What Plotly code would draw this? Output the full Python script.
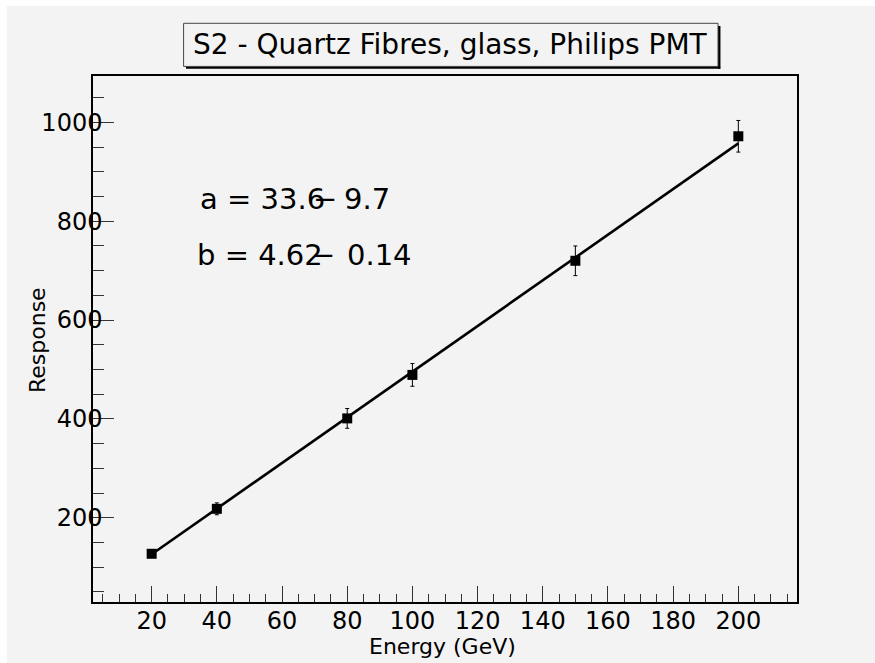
import plotly.graph_objects as go

# Beam energies and measured detector response with uncertainties
energy = [20, 40, 80, 100, 150, 200]
response = [127, 218, 401, 489, 720, 972]
response_err = [7, 12, 20, 23, 30, 32]

# Linear fit parameters: response = a + b * energy
fit_a, fit_a_err = 33.6, 9.7
fit_b, fit_b_err = 4.62, 0.14

x_ticks = [20, 40, 60, 80, 100, 120, 140, 160, 180, 200]
y_ticks = [200, 400, 600, 800, 1000]

title_text = "S2 - Quartz Fibres, glass, Philips PMT"
x_title = "Energy (GeV)"
y_title = "Response"

W, H = 875, 663
L, R, T, B = 93, 797, 76, 602
PW, PH = R - L, B - T
BG = "#f3f3f3"
FONT = "DejaVu Sans"


def xp(px):
    return (px - L) / PW


def yp(py):
    return (B - py) / PH


fit_x = [energy[0], energy[-1]]
fit_y = [fit_a + fit_b * e for e in fit_x]

fig = go.Figure()

fig.add_trace(go.Scatter(
    x=fit_x, y=fit_y, mode="lines",
    line=dict(color="black", width=2.6),
    hoverinfo="skip", showlegend=False,
))

fig.add_trace(go.Scatter(
    x=energy, y=response, mode="markers",
    marker=dict(symbol="square", size=10, color="black"),
    error_y=dict(type="data", array=response_err, visible=True,
                 color="black", thickness=1, width=2),
    showlegend=False,
))

axis_common = dict(
    showgrid=False, zeroline=False,
    showline=True, linecolor="black", linewidth=1.5, mirror=True,
    ticks="inside", tickcolor="#333", tickwidth=1,
    tickfont=dict(family=FONT, size=24, color="black"),
)

fig.update_xaxes(
    range=[2, 218], tickvals=x_ticks, ticklen=16,
    ticklabelstandoff=-4,
    minor=dict(dtick=5, tick0=0, ticks="inside", ticklen=8,
               tickcolor="#333", tickwidth=1, showgrid=False),
    **axis_common,
)
fig.update_yaxes(
    range=[29.4, 1094], tickvals=y_ticks, ticklen=21,
    ticklabelstandoff=-16,
    minor=dict(dtick=50, tick0=0, ticks="inside", ticklen=11,
               tickcolor="#333", tickwidth=1, showgrid=False),
    **axis_common,
)

shapes = [
    # thin white edge along the top and left of the canvas
    dict(type="rect", xref="paper", yref="paper", layer="above",
         x0=xp(-2), x1=xp(6.7), y0=yp(H + 2), y1=yp(-2),
         fillcolor="white", line=dict(width=0)),
    dict(type="rect", xref="paper", yref="paper", layer="above",
         x0=xp(-2), x1=xp(W + 2), y0=yp(6), y1=yp(-2),
         fillcolor="white", line=dict(width=0)),
    # title box with drop shadow
    dict(type="line", xref="paper", yref="paper", layer="above",
         x0=xp(186), x1=xp(720.2), y0=yp(67.6), y1=yp(67.6),
         line=dict(color="black", width=2.5)),
    dict(type="line", xref="paper", yref="paper", layer="above",
         x0=xp(719.2), x1=xp(719.2), y0=yp(26), y1=yp(68.8),
         line=dict(color="black", width=2.5)),
    dict(type="rect", xref="paper", yref="paper", layer="above",
         x0=xp(183.6), x1=xp(718), y0=yp(66.4), y1=yp(23.3),
         fillcolor=BG, line=dict(color="#444", width=1)),
]

annotations = [
    dict(text=title_text, x=xp(450.8), y=yp(44.9), xanchor="center",
         yanchor="middle", font=dict(family=FONT, size=28, color="black")),
    dict(text=x_title, x=xp(442), y=yp(646), xanchor="center",
         yanchor="middle", font=dict(family=FONT, size=22, color="black")),
    dict(text=y_title, x=xp(37), y=yp(340), xanchor="center",
         yanchor="middle", textangle=-90,
         font=dict(family=FONT, size=22, color="black")),
    # fit results; the +- sign is rendered as a bar across the last digit
    dict(text=f"a = {fit_a}", x=xp(197.5), y=yp(198.7), xanchor="left",
         yanchor="middle", font=dict(family=FONT, size=29, color="black")),
    dict(text="\u2212", x=xp(325.4), y=yp(198.7), xanchor="center",
         yanchor="middle", font=dict(family=FONT, size=29, color="black")),
    dict(text=f"{fit_a_err}", x=xp(341.8), y=yp(198.7), xanchor="left",
         yanchor="middle", font=dict(family=FONT, size=29, color="black")),
    dict(text=f"b = {fit_b}", x=xp(194.7), y=yp(254.5), xanchor="left",
         yanchor="middle", font=dict(family=FONT, size=29, color="black")),
    dict(text="\u2212", x=xp(322.5), y=yp(254.5), xanchor="center",
         yanchor="middle", font=dict(family=FONT, size=29, color="black")),
    dict(text=f"{fit_b_err}", x=xp(345.4), y=yp(254.5), xanchor="left",
         yanchor="middle", font=dict(family=FONT, size=29, color="black")),
]
for a in annotations:
    a.update(xref="paper", yref="paper", showarrow=False)

fig.update_layout(
    width=W, height=H,
    margin=dict(l=L, r=W - R, t=T, b=H - B, pad=0),
    paper_bgcolor=BG, plot_bgcolor=BG,
    font=dict(family=FONT, color="black"),
    shapes=shapes, annotations=annotations,
    showlegend=False,
)

fig.write_html("out.html")
